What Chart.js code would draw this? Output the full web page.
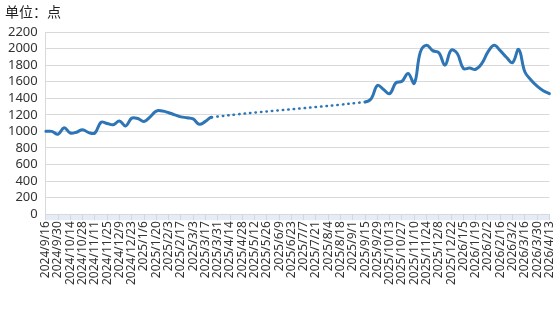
<!DOCTYPE html>
<html>
<head>
<meta charset="utf-8">
<script src="https://cdn.jsdelivr.net/npm/chart.js@4/dist/chart.umd.min.js"></script>
<style>
  body { margin: 0; background: #fff; }
</style>
</head>
<body>
<canvas id="indexChart" width="554" height="310"></canvas>
<script>
// weekly dates
const weeks = [
  "2024/9/16", "2024/9/23", "2024/9/30", "2024/10/7", "2024/10/14", "2024/10/21", "2024/10/28",
  "2024/11/4", "2024/11/11", "2024/11/18", "2024/11/25", "2024/12/2", "2024/12/9", "2024/12/16",
  "2024/12/23", "2024/12/30", "2025/1/6", "2025/1/13", "2025/1/20", "2025/1/27", "2025/2/3",
  "2025/2/10", "2025/2/17", "2025/2/24", "2025/3/3", "2025/3/10", "2025/3/17", "2025/3/24",
  "2025/3/31", "2025/4/7", "2025/4/14", "2025/4/21", "2025/4/28", "2025/5/5", "2025/5/12",
  "2025/5/19", "2025/5/26", "2025/6/2", "2025/6/9", "2025/6/16", "2025/6/23", "2025/6/30",
  "2025/7/7", "2025/7/14", "2025/7/21", "2025/7/28", "2025/8/4", "2025/8/11", "2025/8/18",
  "2025/8/25", "2025/9/1", "2025/9/8", "2025/9/15", "2025/9/22", "2025/9/29", "2025/10/6",
  "2025/10/13", "2025/10/20", "2025/10/27", "2025/11/3", "2025/11/10", "2025/11/17", "2025/11/24",
  "2025/12/1", "2025/12/8", "2025/12/15", "2025/12/22", "2025/12/29", "2026/1/5", "2026/1/12",
  "2026/1/19", "2026/1/26", "2026/2/2", "2026/2/9", "2026/2/16", "2026/2/23", "2026/3/2",
  "2026/3/9", "2026/3/16", "2026/3/23", "2026/3/30", "2026/4/6", "2026/4/13"
];

// index value (points); null = no data, bridged with dotted line
const indexValues = [
  1000, 1000, 965, 1045, 980, 990, 1020, 985, 980, 1110,
  1095, 1080, 1125, 1065, 1160, 1155, 1120, 1175, 1245, 1245,
  1225, 1200, 1175, 1165, 1150, 1085, 1120, 1170,
  null, null, null, null, null, null, null, null, null, null, null, null,
  null, null, null, null, null, null, null, null, null, null, null, null,
  1355, 1395, 1555, 1505, 1455, 1585, 1605, 1700, 1580, 1960,
  2040, 1975, 1950, 1800, 1980, 1940, 1760, 1765, 1750, 1820,
  1960, 2040, 1975, 1895, 1830, 1990, 1720, 1620, 1545, 1490,
  1455
];

const yTicks = [0, 2200, 200]; // min, max, step
const unitText = "单位：点";

const gapDots = (ctx, value) => (ctx.p0.skip || ctx.p1.skip ? value : undefined);

// light band under the x axis + unit caption top left
const decorations = {
  id: "decorations",
  beforeDraw(chart) {
    const { ctx, chartArea } = chart;
    ctx.save();
    ctx.fillStyle = "#e4ecf7";
    ctx.fillRect(chartArea.left, chartArea.bottom, chartArea.right - chartArea.left, 6);
    ctx.restore();
  },
  afterDraw(chart) {
    const ctx = chart.ctx;
    ctx.save();
    ctx.fillStyle = "#222";
    ctx.font = "14px 'Noto Sans CJK SC'";
    ctx.textBaseline = "middle";
    ctx.fillText(unitText, 5, 12);
    ctx.restore();
  }
};

new Chart(document.getElementById("indexChart"), {
  type: "line",
  data: {
    labels: weeks,
    datasets: [{
      label: "指数",
      data: indexValues,
      borderColor: "#2e75b6",
      borderWidth: 3,
      borderCapStyle: "round",
      pointRadius: 0,
      tension: 0.4,
      spanGaps: true,
      segment: {
        borderDash: ctx => gapDots(ctx, [0.5, 5]),
        borderWidth: ctx => gapDots(ctx, 2.5)
      }
    }]
  },
  options: {
    responsive: false,
    animation: false,
    layout: { padding: { left: 0, right: 0, top: 32, bottom: 24 } },
    plugins: {
      legend: { display: false },
      tooltip: { enabled: false }
    },
    scales: {
      x: {
        grid: {
          drawOnChartArea: false,
          drawTicks: true,
          tickLength: 6,
          color: ctx => (ctx.index % 2 ? "rgba(0,0,0,0)" : "#d4d8de")
        },
        border: { color: "#d9d9d9" },
        ticks: {
          autoSkip: false,
          maxRotation: 90,
          minRotation: 90,
          padding: 1,
          color: "#333",
          font: { family: "'Noto Sans'", size: 12, lineHeight: 0.3 },
          callback: function (value, index) {
            return index % 2 ? "" : this.getLabelForValue(value);
          }
        }
      },
      y: {
        min: yTicks[0],
        max: yTicks[1],
        grid: { color: "#d9d9d9", drawTicks: false },
        border: { color: "#d9d9d9" },
        ticks: {
          stepSize: yTicks[2],
          autoSkip: false,
          padding: 8,
          color: "#333",
          font: { family: "'Noto Sans'", size: 13 },
          callback: value => String(value)
        }
      }
    }
  },
  plugins: [decorations]
});
</script>
</body>
</html>
